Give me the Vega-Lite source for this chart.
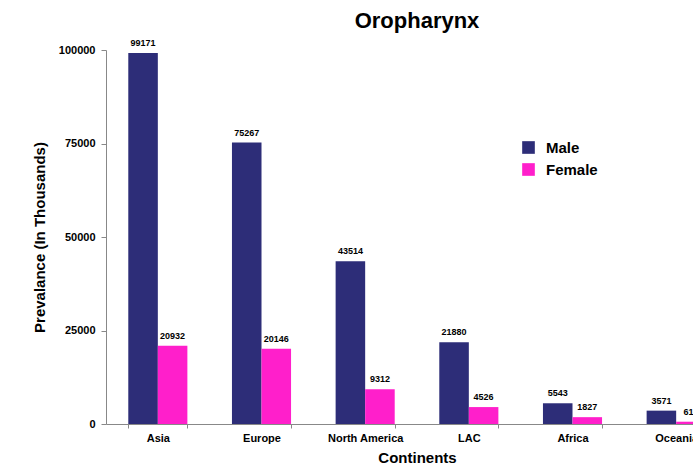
{
  "$schema": "https://vega.github.io/schema/vega-lite/v6.json",
  "autosize": {"type": "none"},
  "width": 622,
  "height": 374,
  "padding": {"left": 106, "top": 50, "right": 0, "bottom": 42},
  "background": "white",
  "config": {"view": {"stroke": null}, "font": "Liberation Sans"},
  "title": {"text": "Oropharynx", "fontSize": 22, "fontWeight": "bold", "color": "black", "anchor": "middle", "offset": 6, "font": "Liberation Sans"},
  "data": {"values": [
    {"continent": "Asia", "sex": "Male", "value": 99171},
    {"continent": "Asia", "sex": "Female", "value": 20932},
    {"continent": "Europe", "sex": "Male", "value": 75267},
    {"continent": "Europe", "sex": "Female", "value": 20146},
    {"continent": "North America", "sex": "Male", "value": 43514},
    {"continent": "North America", "sex": "Female", "value": 9312},
    {"continent": "LAC", "sex": "Male", "value": 21880},
    {"continent": "LAC", "sex": "Female", "value": 4526},
    {"continent": "Africa", "sex": "Male", "value": 5543},
    {"continent": "Africa", "sex": "Female", "value": 1827},
    {"continent": "Oceania", "sex": "Male", "value": 3571},
    {"continent": "Oceania", "sex": "Female", "value": 612}
  ]},
  "encoding": {
    "x": {"field": "continent", "type": "nominal", "sort": null,
      "scale": {"paddingInner": 0.43, "paddingOuter": 0.215},
      "axis": {"title": "Continents", "titleFontSize": 15, "titleFontWeight": "bold", "titlePadding": 7, "labelAngle": 0, "labelFontSize": 11, "labelFontWeight": "bold", "labelColor": "black", "labelPadding": 4, "domainColor": "#888", "tickColor": "#888", "tickBand": "extent", "tickSize": 4, "titleColor": "black"}},
    "xOffset": {"field": "sex", "type": "nominal", "sort": ["Male", "Female"]},
    "y": {"field": "value", "type": "quantitative",
      "scale": {"domain": [0, 100000], "nice": false},
      "axis": {"title": "Prevalance (In Thousands)", "titleFontSize": 15, "titleFontWeight": "bold", "titleColor": "black", "titlePadding": 11, "values": [0, 25000, 50000, 75000, 100000], "format": "d", "grid": false, "labelFontSize": 11, "labelFontWeight": "bold", "labelColor": "black", "labelPadding": 6, "domainColor": "#888", "tickColor": "#888", "tickSize": 5}}
  },
  "layer": [
    {"mark": {"type": "bar"},
     "encoding": {
       "color": {"field": "sex", "type": "nominal", "sort": ["Male", "Female"],
         "scale": {"domain": ["Male", "Female"], "range": ["#2D2D78", "#FF1FCB"]},
         "legend": {"title": null, "orient": "none", "legendX": 415, "legendY": 90, "labelFontSize": 15, "labelFontWeight": "bold", "labelColor": "black", "symbolType": "square", "symbolSize": 160, "symbolStrokeWidth": 0, "rowPadding": 6, "labelOffset": 10}}
     }},
    {"mark": {"type": "text", "dy": -5, "fontSize": 9, "fontWeight": "bold", "color": "black", "baseline": "bottom"},
     "encoding": {"text": {"field": "value", "type": "quantitative", "format": "d"}}}
  ]
}
